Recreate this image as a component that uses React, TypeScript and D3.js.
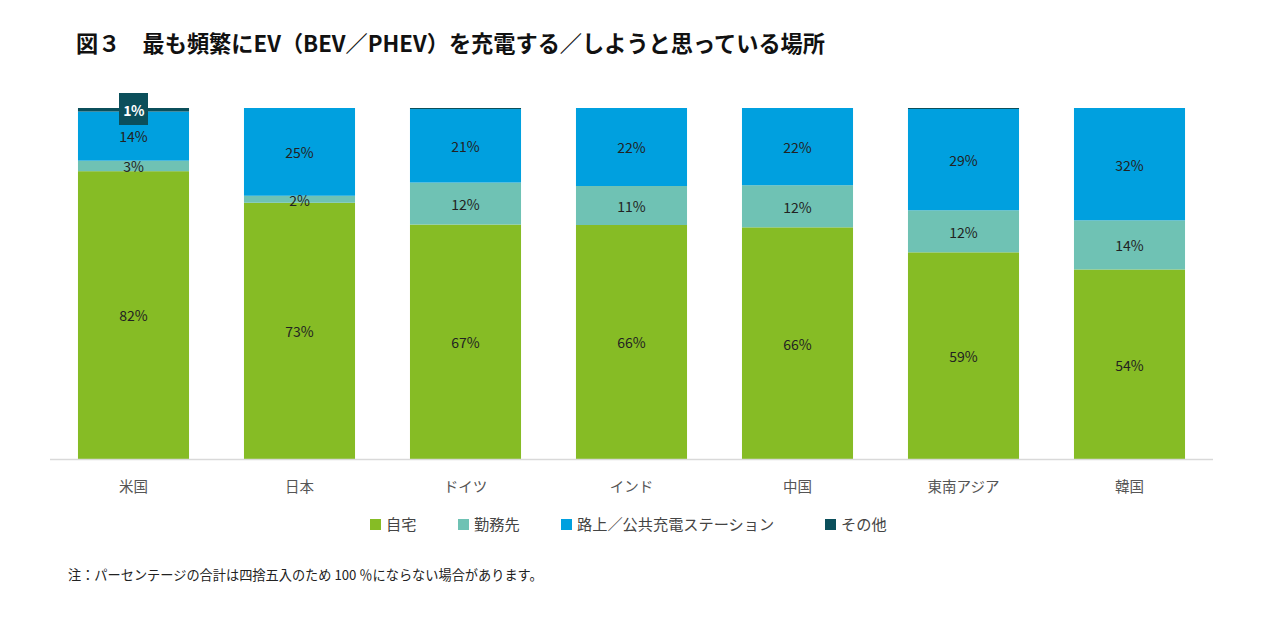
import React from "react";
import * as d3 from "d3";

const categories = ["米国", "日本", "ドイツ", "インド", "中国", "東南アジア", "韓国"];
const seriesNames = ["自宅", "勤務先", "路上／公共充電ステーション", "その他"];
const home = [82, 73, 67, 66, 66, 59, 54];
const work = [3, 2, 12, 11, 12, 12, 14];
const publicSt = [14, 25, 21, 22, 22, 29, 32];
const other = [1, 0, 0.3, 0, 0, 0.2, 0];
const colors = ["#86bc25", "#6fc2b4", "#00a0df", "#0b4f5b"];
const title = "図３　最も頻繁にEV（BEV／PHEV）を充電する／しようと思っている場所";
const note = "注：パーセンテージの合計は四捨五入のため 100 ％にならない場合があります。";

const W = 1280, H = 619;
const FONT = "'Noto Sans CJK JP', 'Noto Sans', sans-serif";

export default function App() {
  const keys = ["home", "work", "pub", "other"];
  const rows = categories.map((c, i) => ({ cat: c, home: home[i], work: work[i], pub: publicSt[i], other: other[i] }));
  const stack = d3.stack<any>().keys(keys).offset(d3.stackOffsetExpand)(rows);
  const x = d3.scaleBand().domain(categories).range([50.5, 1212.5]).paddingInner(0.331).paddingOuter(0.1655);
  const y = d3.scaleLinear().domain([0, 1]).range([459, 108]);
  const labelVals = [home, work, publicSt];

  return (
    <svg width={W} height={H} style={{ position: "absolute", left: 0, top: 0, fontFamily: FONT }}>
      <rect width={W} height={H} fill="#fff" />
      <text x={76} y={52} fontSize={22.2} fontWeight={700} fill="#111">{title}</text>
      {stack.map((s, si) => (
        <g key={si}>
          {s.map((d, i) => {
            const y0 = y(d[0]), y1 = y(d[1]);
            const h = y0 - y1;
            if (h <= 0) return null;
            return (
              <rect key={i} x={x(categories[i])} y={y1} width={x.bandwidth()} height={Math.max(h, 1)} fill={colors[si]} />
            );
          })}
        </g>
      ))}
      {stack.slice(0, 3).map((s, si) => (
        <g key={"l" + si}>
          {s.map((d, i) => {
            const cy = (y(d[0]) + y(d[1])) / 2 + 1.5;
            return (
              <text key={i} x={(x(categories[i]) as number) + x.bandwidth() / 2} y={cy} dy="0.35em"
                textAnchor="middle" fontSize={14} fill="#222">{labelVals[si][i]}%</text>
            );
          })}
        </g>
      ))}
      {(() => {
        const cx = (x(categories[0]) as number) + x.bandwidth() / 2;
        return (
          <g>
            <rect x={cx - 14.5} y={93} width={29} height={32} fill={colors[3]} />
            <text x={cx} y={111} dy="0.35em" textAnchor="middle" fontSize={14} fontWeight={700} fill="#fff" letterSpacing={-0.5}>{other[0]}%</text>
          </g>
        );
      })()}
      <line x1={50} x2={1213} y1={459.5} y2={459.5} stroke="#d9d9d9" strokeWidth={1.5} />
      {categories.map((c) => (
        <text key={c} x={(x(c) as number) + x.bandwidth() / 2} y={487} dy="0.35em" textAnchor="middle" fontSize={14.5} fill="#555">{c}</text>
      ))}
      {(() => {
        const xs = [370, 458, 561, 825];
        return seriesNames.map((n, i) => (
          <g key={n}>
            <rect x={xs[i]} y={519} width={11} height={11} fill={colors[i]} />
            <text x={xs[i] + 16} y={525} dy="0.35em" fontSize={15.2} fill="#444">{n}</text>
          </g>
        ));
      })()}
      <text x={68} y={575} dy="0.35em" fontSize={13.2} fill="#222">{note}</text>
    </svg>
  );
}
